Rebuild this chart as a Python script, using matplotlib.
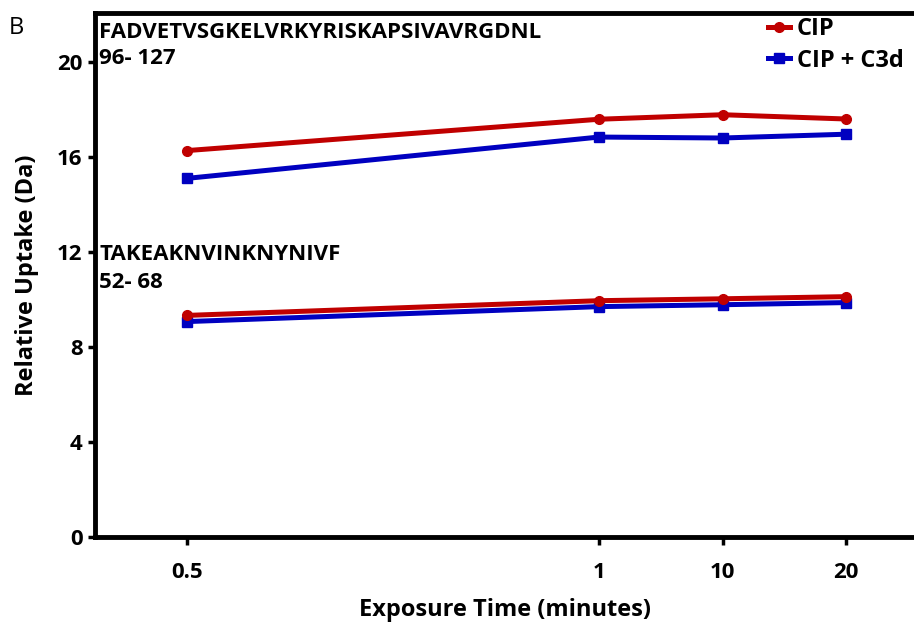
import matplotlib
matplotlib.use("Agg")
import matplotlib.pyplot as plt

# ---- data ----
time_labels = ["0.5", "1", "10", "20"]
pep1_cip = [16.27, 17.59, 17.78, 17.60]
pep1_c3d = [15.10, 16.84, 16.80, 16.96]
pep2_cip = [9.33, 9.95, 10.03, 10.12]
pep2_c3d = [9.07, 9.70, 9.78, 9.87]
pep1_seq = "FADVETVSGKELVRKYRISKAPSIVAVRGDNL"
pep1_range = "96- 127"
pep2_seq = "TAKEAKNVINKNYNIVF"
pep2_range = "52- 68"
series_names = ["CIP", "CIP + C3d"]
y_ticks = [0, 4, 8, 12, 16, 20]

# ---- layout ----
xpos = [0, 10, 13, 16]
RED = "#C00000"
BLUE = "#0000C0"
FONT = "Open Sans"
plt.rcParams['font.family'] = [FONT, 'DejaVu Sans']

W, H = 914, 626
fig = plt.figure(figsize=(W / 100, H / 100), dpi=100)
left_px, right_px, bot_px, top_px = 95, 935, 537, 13
ax = fig.add_axes([left_px / W, 1 - bot_px / H, (right_px - left_px) / W, (bot_px - top_px) / H])

px_per_unit = 41.2
x0_px = 187
ax.set_xlim((left_px - x0_px) / px_per_unit, (right_px - x0_px) / px_per_unit)
ax.set_ylim(0, (bot_px - top_px) / 23.75)

lw = 3.6
for (cip, c3d) in [(pep1_cip, pep1_c3d), (pep2_cip, pep2_c3d)]:
    l2, = ax.plot(xpos, c3d, color=BLUE, lw=lw, marker='s', ms=7.5, zorder=3)
    l1, = ax.plot(xpos, cip, color=RED, lw=lw, marker='o', ms=7, zorder=4)

leg = ax.legend([l1, l2], series_names, loc='upper right',
                bbox_to_anchor=((913 - left_px) / (right_px - left_px), 1.0 + 5 / (bot_px - top_px)),
                frameon=False, handlelength=0.9, handletextpad=0.3, labelspacing=0.3,
                borderaxespad=0.0, prop={'family': FONT, 'weight': 'bold', 'size': 17})

ax.set_xticks(xpos)
ax.set_xticklabels(time_labels)
ax.set_yticks(y_ticks)
for lab in ax.get_xticklabels() + ax.get_yticklabels():
    lab.set_fontweight('bold')
    lab.set_fontsize(16)
    lab.set_family(FONT)
ax.tick_params(axis='x', direction='out', length=6, width=2.5, pad=12)
ax.tick_params(axis='y', direction='out', length=5, width=2.5, pad=4)

for s in ['left', 'bottom', 'top', 'right']:
    ax.spines[s].set_linewidth(3.5)

ax.set_xlabel("Exposure Time (minutes)", fontsize=17, fontweight='bold')
ax.xaxis.set_label_coords((505 - left_px) / (right_px - left_px), -(622 - bot_px) / (bot_px - top_px))
ax.xaxis.label.set_va('bottom')
ax.set_ylabel("Relative Uptake (Da)", fontsize=17, fontweight='bold')
ax.yaxis.set_label_coords(-(95 - 27) / (right_px - left_px), (bot_px - 275) / (bot_px - top_px))
ax.yaxis.label.set_va('center')
ax.yaxis.label.set_ha('center')

tx = (99 - x0_px) / px_per_unit
def ydata(py):
    return (bot_px - py) / 23.75
txt_kw = dict(fontsize=16, fontweight='bold', va='center', ha='left', family=FONT)
ax.text(tx, ydata(32), pep1_seq, **txt_kw)
ax.text(tx, ydata(59), pep1_range, **txt_kw)
ax.text(tx, ydata(255), pep2_seq, **txt_kw)
ax.text(tx, ydata(283), pep2_range, **txt_kw)

fig.text(9 / W, 1 - 28 / H, "B", fontsize=17, va='center', ha='left', family=FONT)

fig.savefig("out.png", dpi=100)
